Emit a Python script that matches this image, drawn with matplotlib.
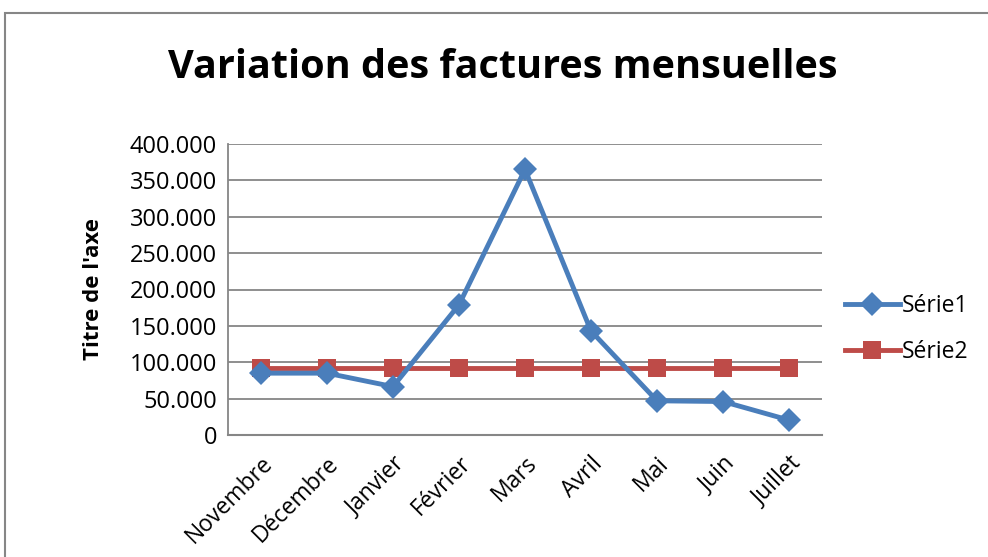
import matplotlib
matplotlib.use("Agg")
import matplotlib.pyplot as plt
from matplotlib.lines import Line2D
from matplotlib.patches import Rectangle
from matplotlib.ticker import FuncFormatter

categories = ["Novembre", "Décembre", "Janvier", "Février", "Mars", "Avril", "Mai", "Juin", "Juillet"]
serie1 = [85000, 85000, 66500, 179000, 365000, 143000, 47000, 46000, 20500]
serie2 = [92000, 92000, 92000, 92000, 92000, 92000, 92000, 92000, 92000]
series_names = ["Série1", "Série2"]
yticks = [0, 50000, 100000, 150000, 200000, 250000, 300000, 350000, 400000]

plt.rcParams['font.family'] = ['Open Sans', 'DejaVu Sans']

W, H = 988, 557
fig = plt.figure(figsize=(W / 100, H / 100), dpi=100)

# outer chart border (right/bottom cut off)
fig.patches.append(Rectangle((5 / W, -0.1), 1.2, 1 - 13 / H + 0.1, transform=fig.transFigure,
                             fill=False, edgecolor="#868686", linewidth=1.5))

ax = fig.add_axes([228 / W, 1 - 435 / H, (822 - 228) / W, (435 - 144) / H])

blue = "#4A7EBB"
red = "#BE4B48"
x = list(range(len(categories)))
ax.plot(x, serie2, color=red, linewidth=3.5, marker="s", markersize=12.5,
        markeredgewidth=0, zorder=3)
ax.plot(x, serie1, color=blue, linewidth=3.5, marker="D", markersize=12,
        markeredgewidth=0, zorder=4)

ax.set_xlim(-0.5, len(categories) - 0.5)
ax.set_ylim(0, 400000)
ax.set_yticks(yticks)
ax.yaxis.set_major_formatter(FuncFormatter(lambda v, p: f"{int(v):,}".replace(",", ".")))
ax.set_xticks(x)
ax.set_xticklabels(categories, rotation=45, ha="right", rotation_mode="anchor", fontsize=16.5)
ax.tick_params(axis="y", labelsize=17, length=0, pad=8)
ax.tick_params(axis="x", length=0, pad=12)
ax.grid(axis="y", color="#868686", linewidth=1.3)
ax.set_axisbelow(True)
for s in ["top", "right"]:
    ax.spines[s].set_visible(False)
ax.spines["left"].set_color("#868686")
ax.spines["left"].set_linewidth(1.3)
ax.spines["bottom"].set_color("#868686")
ax.spines["bottom"].set_linewidth(1.5)

ax.set_ylabel("Titre de l'axe", fontsize=16, fontweight="bold")
ax.yaxis.set_label_coords(-(228 - 104) / (822 - 228), 0.5)

fig.text(503 / W, 1 - 67 / H, "Variation des factures mensuelles", ha="center", va="center",
         fontsize=28.5, fontweight="bold")

handles = [Line2D([], [], color=blue, linewidth=3.5, marker="D", markersize=12, markeredgewidth=0),
           Line2D([], [], color=red, linewidth=3.5, marker="s", markersize=12.5, markeredgewidth=0)]
fig.legend(handles, series_names, loc="center left", bbox_to_anchor=(824 / W, 1 - 329 / H),
           frameon=False, fontsize=16.5, handlelength=2.4, handletextpad=0.1, labelspacing=1.0)

fig.savefig("out.png", dpi=100)
